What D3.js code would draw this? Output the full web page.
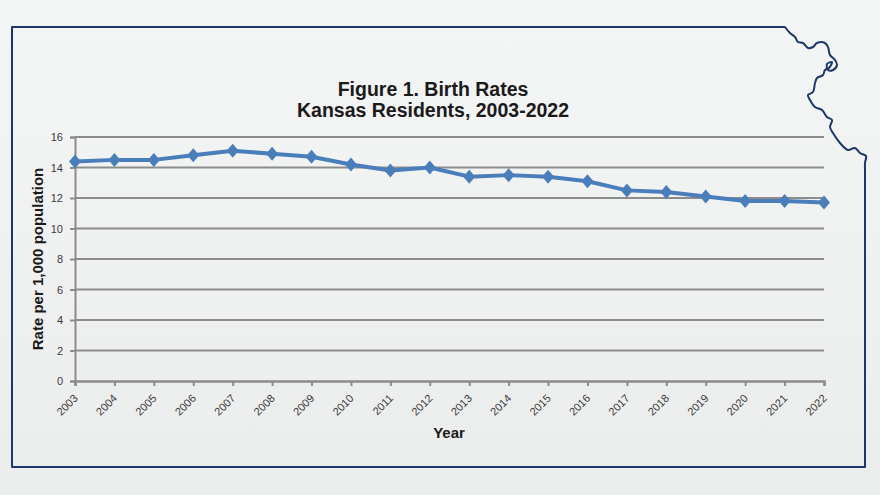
<!DOCTYPE html>
<html lang="en">
<head>
  <meta charset="UTF-8">
  <title>Figure 1. Birth Rates</title>
  <script src="https://d3js.org/d3.v7.min.js"></script>
  <style>
    body { margin: 0; background: #eeefef; }
    svg text { font-family: "Liberation Sans", Arial, sans-serif; }
  </style>
</head>
<body>
<script>
  var years = [2003, 2004, 2005, 2006, 2007, 2008, 2009, 2010, 2011, 2012,
               2013, 2014, 2015, 2016, 2017, 2018, 2019, 2020, 2021, 2022]
  var rates = [14.4, 14.5, 14.5, 14.8, 15.1, 14.9, 14.7, 14.2, 13.8, 14.0,
               13.4, 13.5, 13.4, 13.1, 12.5, 12.4, 12.1, 11.8, 11.8, 11.7]
  var yTicks = [0, 2, 4, 6, 8, 10, 12, 14, 16]

  var width = 880
  var height = 495
  var padding = {top: 137, right: 56, bottom: 114, left: 75}

  var svg = d3.select('body').append('svg').attr('width', width).attr('height', height)

  // background
  var grad = svg.append('defs').append('linearGradient')
    .attr('id', 'bg').attr('x1', 0).attr('y1', 0).attr('x2', 0).attr('y2', 1)
  grad.append('stop').attr('offset', '0%').attr('stop-color', '#f4f5f5')
  grad.append('stop').attr('offset', '100%').attr('stop-color', '#ebecec')
  svg.append('rect').attr('width', width).attr('height', height).attr('fill', 'url(#bg)')

  // state outline (Kansas shape), river edge on the north-east corner
  var river = [[785, 27], [790, 33], [795, 37], [798, 42], [803, 43],
    [808, 48], [813, 47], [817, 43], [825, 43], [828, 47], [830, 55], [835, 60],
    [837, 65], [833, 70], [828, 70], [827, 64], [832, 62], [829, 68], [825, 70],
    [823, 75], [817, 78], [815, 83], [813, 92], [808, 95], [810, 100], [815, 107],
    [822, 110], [827, 117], [832, 120], [830, 127], [833, 133], [840, 143],
    [848, 150], [855, 148], [860, 153], [866, 156], [865, 163], [865, 170]]
  var riverPath = d3.line().curve(d3.curveCatmullRom)(river)
  svg.append('path')
    .attr('d', 'M12,27L785,27' + riverPath.replace(/^M[^A-Za-z]*/, '') + 'L865,467L12,467Z')
    .attr('fill', 'none').attr('stroke', '#1c3768').attr('stroke-width', 2)
    .attr('stroke-linejoin', 'round')

  var xScale = d3.scalePoint().domain(years).range([padding.left, width - padding.right])
  var yScale = d3.scaleLinear().domain([0, 16]).range([height - padding.bottom, padding.top])

  // gridlines
  svg.append('g').selectAll('line').data(yTicks.slice(1)).enter().append('line')
    .attr('x1', padding.left).attr('x2', width - padding.right)
    .attr('y1', function (d) { return yScale(d) })
    .attr('y2', function (d) { return yScale(d) })
    .attr('stroke', '#8c8c8c').attr('stroke-width', 2)

  // y axis
  var yAxis = d3.axisLeft(yScale).tickValues(yTicks).tickSize(5).tickPadding(7)
  var gy = svg.append('g').attr('transform', 'translate(' + padding.left + ',0)').call(yAxis)
  gy.select('.domain').attr('stroke', '#8c8c8c').attr('stroke-width', 2)
  gy.selectAll('.tick line').attr('stroke', '#8c8c8c').attr('stroke-width', 2)
  gy.selectAll('text').attr('font-size', 11).attr('fill', '#3a3a3a')

  // x axis
  var xAxis = d3.axisBottom(xScale).tickSize(5).tickPadding(3)
  var gx = svg.append('g').attr('transform', 'translate(0,' + (height - padding.bottom) + ')').call(xAxis)
  gx.select('.domain').attr('stroke', '#8c8c8c').attr('stroke-width', 2.5)
  gx.selectAll('.tick line').attr('stroke', '#8c8c8c').attr('stroke-width', 2)
  gx.selectAll('text').attr('font-size', 11).attr('fill', '#3a3a3a')
    .attr('text-anchor', 'end').attr('dy', 0)
    .attr('transform', 'translate(3,18) rotate(-45)')
    .attr('x', 0).attr('y', 0)

  // line
  var line = d3.line()
    .x(function (d, i) { return xScale(years[i]) })
    .y(function (d) { return yScale(d) })
  svg.append('path').datum(rates).attr('d', line)
    .attr('fill', 'none').attr('stroke', '#4a7ebb').attr('stroke-width', 4)
    .attr('stroke-linejoin', 'round')

  // diamond markers
  svg.append('g').selectAll('path').data(rates).enter().append('path')
    .attr('d', 'M0,-7L6,0L0,7L-6,0Z')
    .attr('transform', function (d, i) { return 'translate(' + xScale(years[i]) + ',' + yScale(d) + ')' })
    .attr('fill', '#4a7ebb')

  // titles
  svg.append('text').attr('x', 433).attr('y', 96).attr('text-anchor', 'middle')
    .attr('font-size', 19.5).attr('font-weight', 'bold').attr('fill', '#1a1a1a')
    .text('Figure 1. Birth Rates')
  svg.append('text').attr('x', 433).attr('y', 117).attr('text-anchor', 'middle')
    .attr('font-size', 19.5).attr('font-weight', 'bold').attr('fill', '#1a1a1a')
    .text('Kansas Residents, 2003-2022')

  svg.append('text').attr('transform', 'translate(43,259) rotate(-90)')
    .attr('text-anchor', 'middle').attr('font-size', 15).attr('font-weight', 'bold')
    .attr('fill', '#1a1a1a').text('Rate per 1,000 population')

  svg.append('text').attr('x', 449).attr('y', 438).attr('text-anchor', 'middle')
    .attr('font-size', 15).attr('font-weight', 'bold').attr('fill', '#1a1a1a')
    .text('Year')
</script>
</body>
</html>
